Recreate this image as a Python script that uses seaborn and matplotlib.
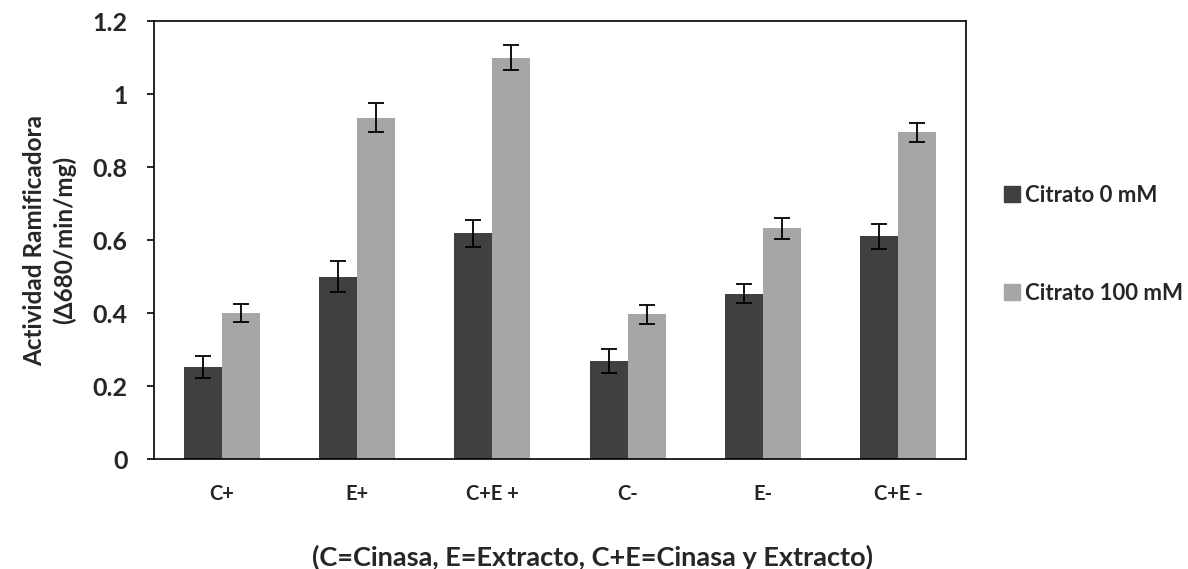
import numpy as np
import pandas as pd
import matplotlib
matplotlib.use("Agg")
import matplotlib.pyplot as plt
from matplotlib.lines import Line2D
import seaborn as sns

categories = ["C+", "E+", "C+E +", "C-", "E-", "C+E -"]
series_names = ["Citrato 0 mM", "Citrato 100 mM"]
citrato_0 = [0.252, 0.500, 0.619, 0.269, 0.453, 0.610]
citrato_100 = [0.400, 0.935, 1.100, 0.397, 0.632, 0.895]
err_0 = [0.030, 0.043, 0.037, 0.032, 0.026, 0.035]
err_100 = [0.024, 0.040, 0.035, 0.026, 0.028, 0.025]
yticks = [0, 0.2, 0.4, 0.6, 0.8, 1, 1.2]
ytick_labels = ["0", "0.2", "0.4", "0.6", "0.8", "1", "1.2"]

colors = ["#404040", "#a6a6a6"]

sns.set_theme(style="white")
plt.rcParams["font.family"] = ["Lato", "DejaVu Sans"]
plt.rcParams["font.weight"] = "bold"

df = pd.DataFrame({
    "cat": categories * 2,
    "serie": [series_names[0]] * len(categories) + [series_names[1]] * len(categories),
    "valor": citrato_0 + citrato_100,
    "err": err_0 + err_100,
})

fig = plt.figure(figsize=(11.88, 5.69), dpi=100)
ax = fig.add_axes([0.1296, 0.193, 0.8131 - 0.1296, 0.963 - 0.193])

sns.barplot(data=df, x="cat", y="valor", hue="serie", order=categories,
            hue_order=series_names, palette=colors, width=0.56,
            errorbar=None, saturation=1, linewidth=0, ax=ax, legend=False)

# error bars centred on each bar
for container, errs in zip(ax.containers, [err_0, err_100]):
    for bar, e in zip(container, errs):
        xc = bar.get_x() + bar.get_width() / 2
        ax.errorbar(xc, bar.get_height(), yerr=e, fmt="none", ecolor="black",
                    elinewidth=1.3, capsize=6, capthick=1.3, zorder=5)

ax.set_ylim(0, 1.2)
ax.set_xlim(-0.5, len(categories) - 0.5)
ax.set_yticks(yticks)
ax.set_yticklabels(ytick_labels, fontsize=18, fontweight="bold")
ax.set_xticks(range(len(categories)))
ax.set_xticklabels(categories, fontsize=14.5, fontweight="bold")
ax.set_xticks(np.arange(-0.5, len(categories)), minor=True)
ax.tick_params(axis="x", which="major", length=0, pad=18)
ax.tick_params(axis="x", which="minor", length=6, width=1.2, color="black", direction="out")
ax.tick_params(axis="y", length=5, width=1.2, color="black", direction="out", left=True, pad=14)

for s in ax.spines.values():
    s.set_color("black")
    s.set_linewidth(1.2)
    s.set_visible(True)

ax.set_xlabel("(C=Cinasa, E=Extracto, C+E=Cinasa y Extracto)", fontsize=19.5,
              fontweight="bold")
ax.xaxis.set_label_coords(0.54, -0.195)
ax.set_ylabel("Actividad Ramificadora\n(\u0394680/min/mg)", fontsize=17.5,
              fontweight="bold", labelpad=12, linespacing=1.3)

handles = [Line2D([0], [0], marker="s", linestyle="none", markersize=11,
                  markerfacecolor=c, markeredgecolor=c) for c in colors]
leg = fig.legend(handles, series_names, loc="upper left",
                 bbox_to_anchor=(0.826, 0.71), frameon=False,
                 labelspacing=3.45, handletextpad=0.05,
                 handlelength=1.0, prop={"weight": "bold", "size": 16})

fig.savefig("out.png", dpi=100)
